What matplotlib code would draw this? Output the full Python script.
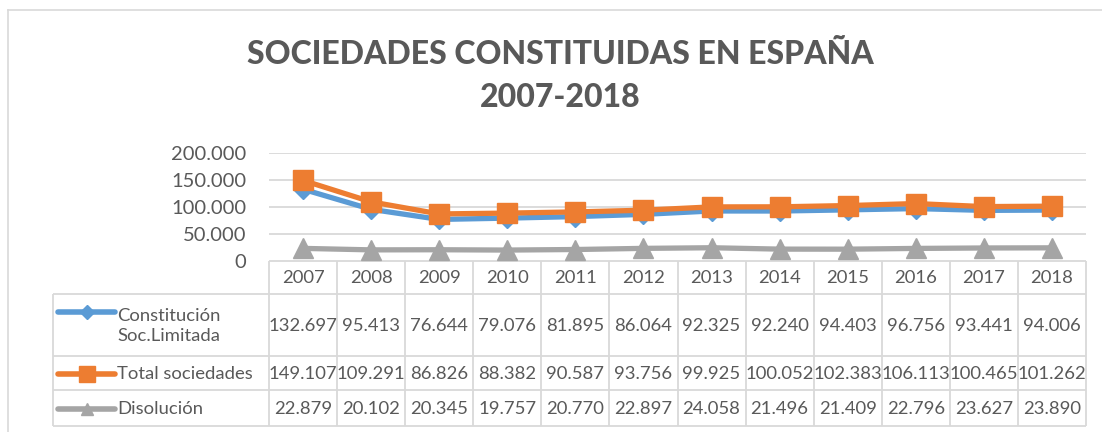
import matplotlib
matplotlib.use("Agg")
import matplotlib.pyplot as plt
from matplotlib.lines import Line2D
from matplotlib.ticker import FuncFormatter

years = ["2007", "2008", "2009", "2010", "2011", "2012", "2013", "2014", "2015", "2016", "2017", "2018"]
constitucion_sl = [132697, 95413, 76644, 79076, 81895, 86064, 92325, 92240, 94403, 96756, 93441, 94006]
total_sociedades = [149107, 109291, 86826, 88382, 90587, 93756, 99925, 100052, 102383, 106113, 100465, 101262]
disolucion = [22879, 20102, 20345, 19757, 20770, 22897, 24058, 21496, 21409, 22796, 23627, 23890]
series_names = ["Constitución\nSoc.Limitada", "Total sociedades", "Disolución"]
y_ticks = [0, 50000, 100000, 150000, 200000]
title = "SOCIEDADES CONSTITUIDAS EN ESPAÑA\n2007-2018"

FONT = "Lato"
TXT = "#595959"
GRID = "#D9D9D9"
colors = ["#5B9BD5", "#ED7D31", "#A5A5A5"]
markers = ["D", "s", "^"]
msizes = [10, 14, 14]
key_msizes = [7, 11, 9]

W, H = 1102, 432
fig = plt.figure(figsize=(W / 100, H / 100), dpi=100)

# pixel layout
x0, x1 = 269, 1086
y_top, y_zero = 153, 260.7
ax = fig.add_axes([x0 / W, (H - y_zero) / H, (x1 - x0) / W, (y_zero - y_top) / H])
ax.set_xlim(-0.5, len(years) - 0.5)
ax.set_ylim(0, 200000)
ax.set_yticks(y_ticks)
ax.yaxis.set_major_formatter(FuncFormatter(lambda v, p: "0" if v == 0 else f"{int(v):,}".replace(",", ".")))
ax.set_xticks([])
for s in ax.spines.values():
    s.set_visible(False)
ax.tick_params(axis="y", length=0, pad=16.5, labelsize=14.5, labelcolor=TXT)
for lab in ax.get_yticklabels():
    lab.set_fontfamily(FONT)
ax.grid(axis="y", color=GRID, lw=1.3)
ax.set_axisbelow(True)

all_series = [constitucion_sl, total_sociedades, disolucion]
xs = list(range(len(years)))
for vals, c, m, ms in zip(all_series, colors, markers, msizes):
    ax.plot(xs, vals, color=c, lw=3.8, marker=m, markersize=ms, markeredgecolor=c,
            markerfacecolor=c, clip_on=False, zorder=3, solid_joinstyle="round")

# overlay for table, title, frame
ov = fig.add_axes([0, 0, 1, 1], zorder=-1)
ov.set_xlim(0, W)
ov.set_ylim(H, 0)
ov.axis("off")

fig.text(0.5 * (253 + 868) / W, 1 - 76 / H, title, ha="center", va="center", fontsize=23,
         fontweight="black", color=TXT, family=FONT, linespacing=1.55)

# chart frame (top and left edges)
ov.plot([7.5, W], [9.5, 9.5], color=GRID, lw=1.2)
ov.plot([7.5, 7.5], [9.5, H], color=GRID, lw=1.2)

# table geometry
tbl_left = 53
rows_y = [y_zero, 294, 355.7, 390, 425.7]
col_w = (x1 - x0) / len(years)
lkw = dict(color=GRID, lw=1.3, solid_capstyle="butt")
# horizontal lines
ov.plot([x0, x1], [rows_y[0], rows_y[0]], **lkw)
for yy in rows_y[1:]:
    ov.plot([tbl_left, x1], [yy, yy], **lkw)
# vertical lines
ov.plot([tbl_left, tbl_left], [rows_y[1], rows_y[-1]], **lkw)
for i in range(len(years) + 1):
    xx = x0 + i * col_w
    ov.plot([xx, xx], [rows_y[0], rows_y[-1]], **lkw)

# year header
for i, yr in enumerate(years):
    ov.text(x0 + (i + 0.5) * col_w, (rows_y[0] + rows_y[1]) / 2 + 1, yr, ha="center", va="center",
            fontsize=13.3, color=TXT, family=FONT)

# rows
for r, (vals, name, c, m, kms) in enumerate(zip(all_series, series_names, colors, markers, key_msizes)):
    ymid = (rows_y[r + 1] + rows_y[r + 2]) / 2 + 1
    key_y = 312 if r == 0 else ymid
    ov.add_line(Line2D([58, 115], [key_y, key_y], color=c, lw=4, solid_capstyle="round"))
    ov.plot([86.5], [key_y], marker=m, markersize=kms, color=c, markeredgecolor=c)
    ov.text(117, ymid, name, ha="left", va="center", fontsize=13.3, color=TXT, family=FONT,
            linespacing=1.35)
    for i, v in enumerate(vals):
        ov.text(x0 + (i + 0.5) * col_w, ymid, f"{v:,}".replace(",", "."), ha="center", va="center",
                fontsize=13.3, color=TXT, family=FONT)

fig.savefig("out.png", dpi=100, facecolor="white")
